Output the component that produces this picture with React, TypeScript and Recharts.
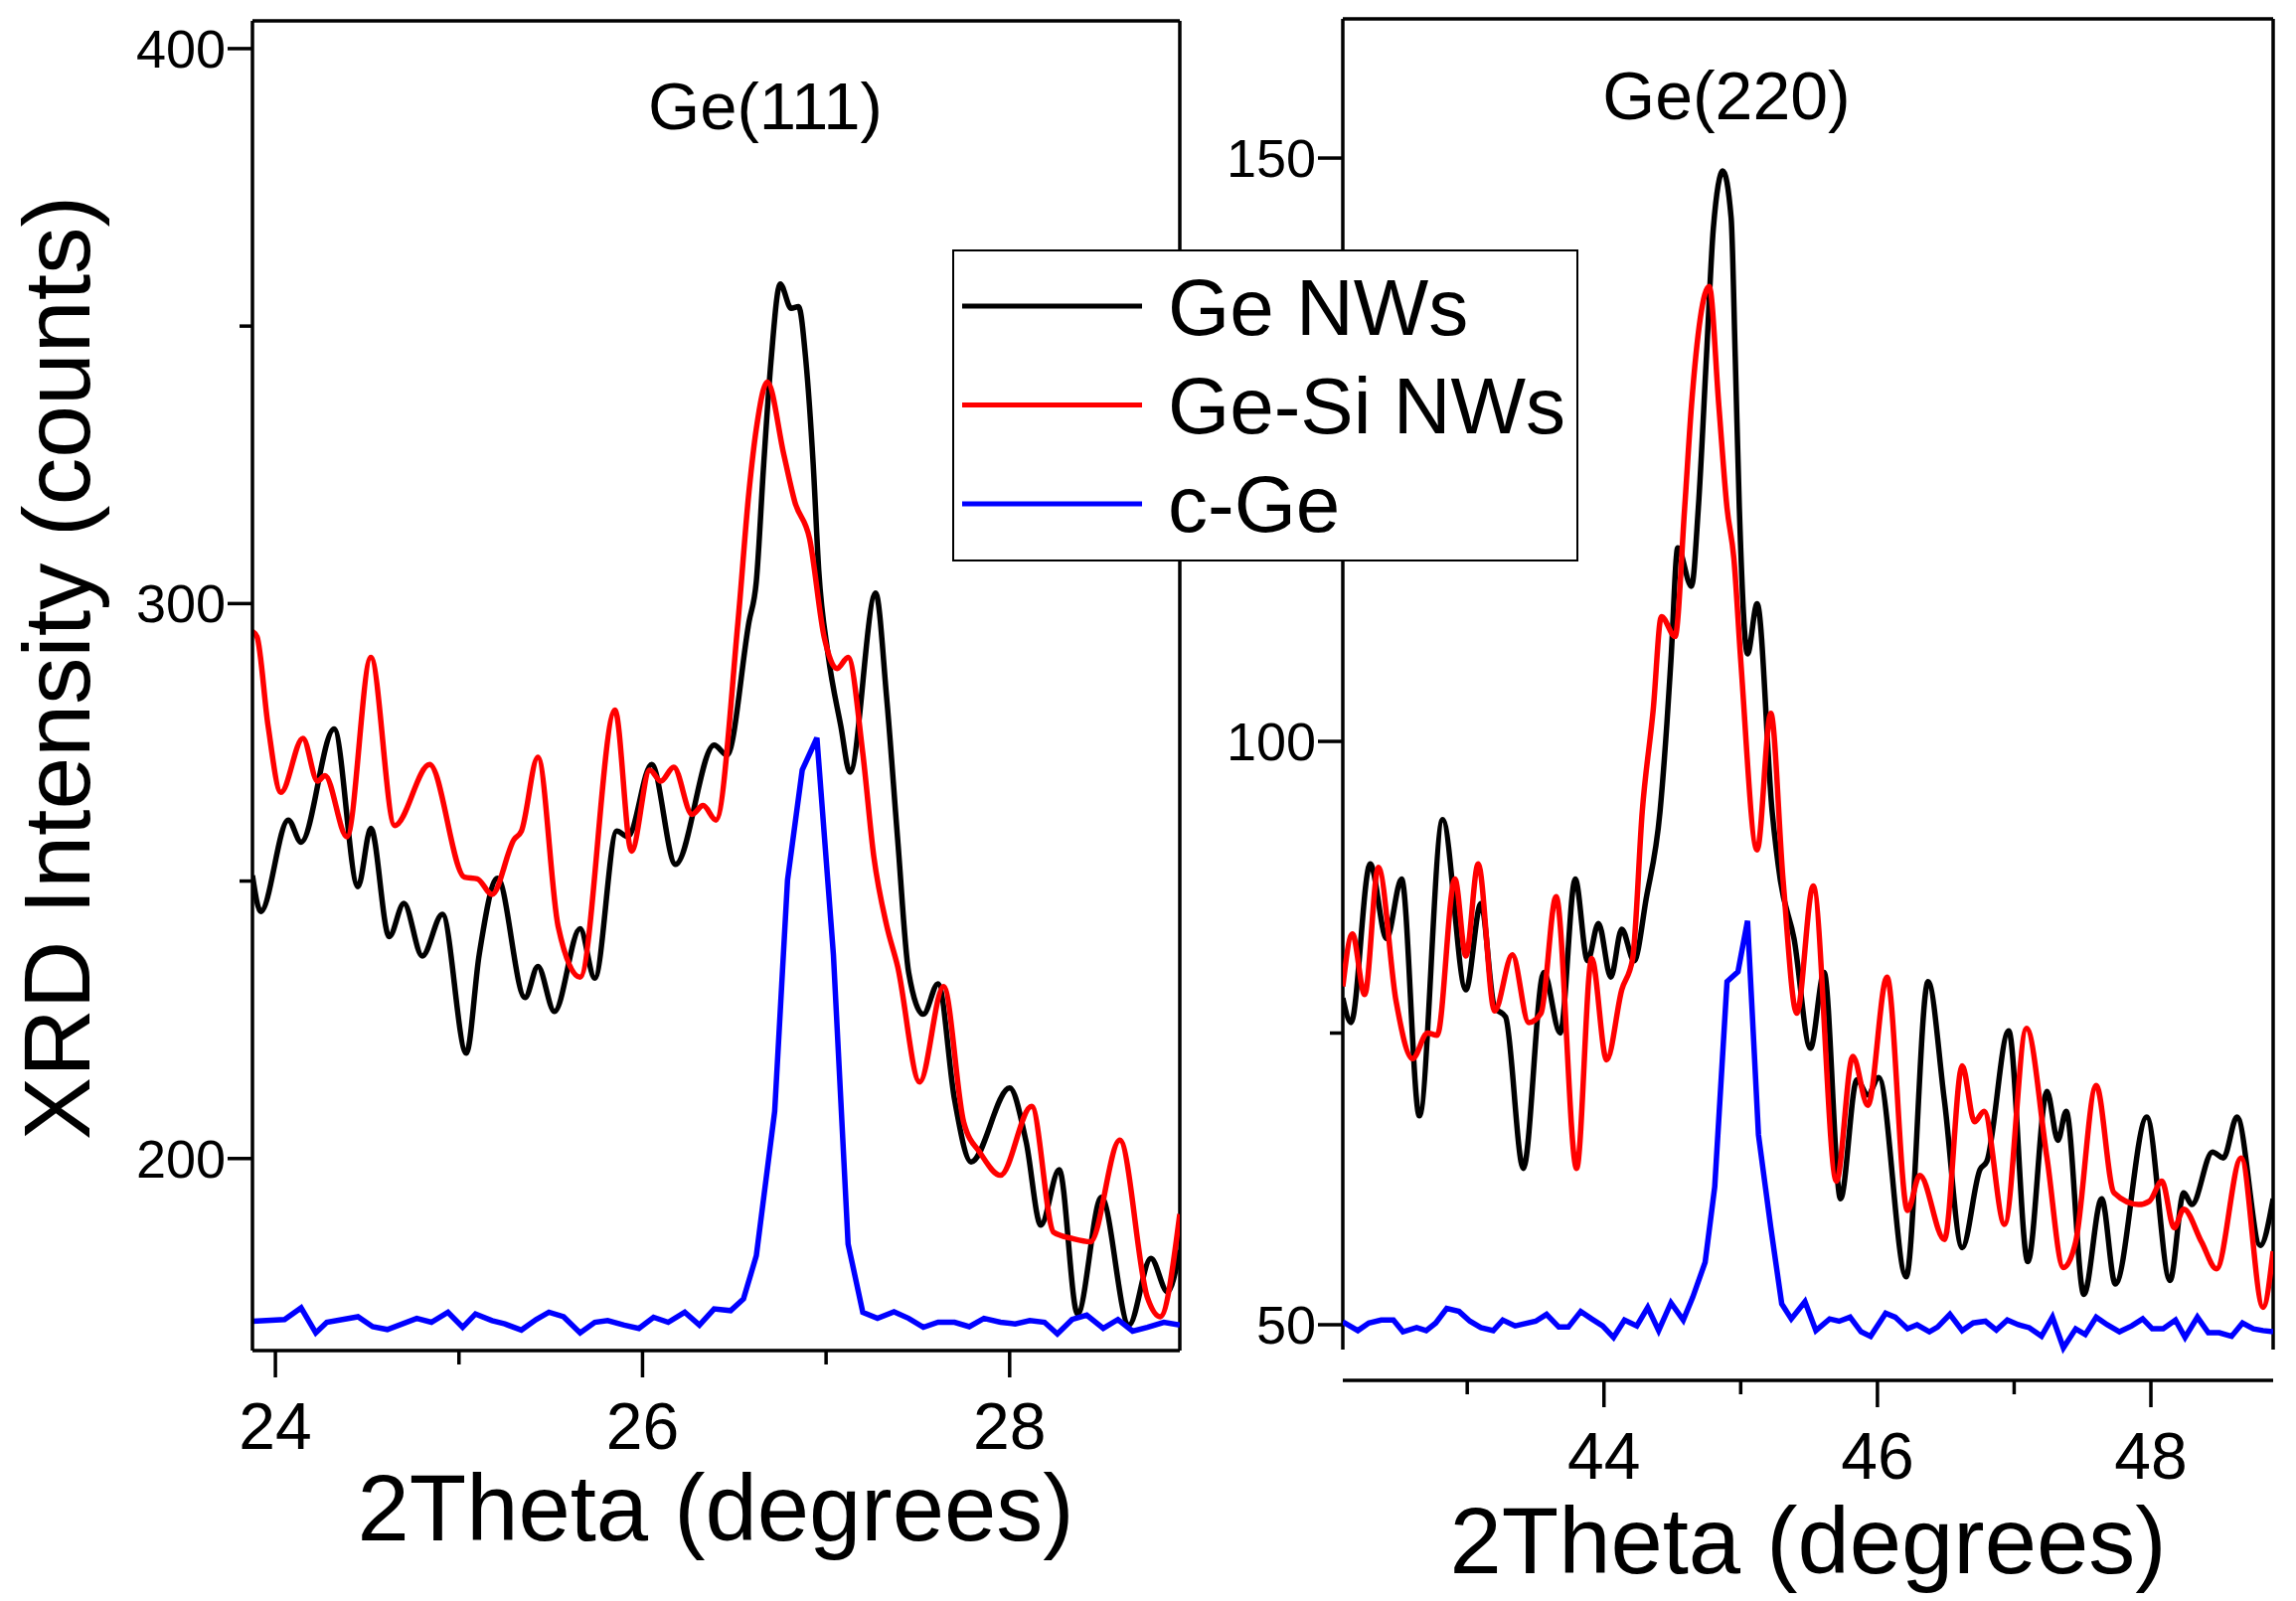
import React from 'react';
import { LineChart, Line, XAxis, YAxis, ReferenceLine } from 'recharts';

const FONT = '"Liberation Sans", Arial, Helvetica, sans-serif';

// ---------- Ge(111) panel data ----------
const geNW111X = [23.875, 23.92, 24.07, 24.14, 24.32, 24.45, 24.52, 24.62, 24.70, 24.80, 24.91, 25.04, 25.11, 25.21, 25.36, 25.43, 25.52, 25.66, 25.74, 25.86, 25.92, 26.05, 26.18, 26.39, 26.46, 26.58, 26.62, 26.66, 26.70, 26.75, 26.81, 26.85, 26.89, 26.93, 26.96, 27.01, 27.08, 27.13, 27.27, 27.33, 27.39, 27.45, 27.53, 27.61, 27.70, 27.79, 28.00, 28.09, 28.17, 28.27, 28.37, 28.50, 28.65, 28.77, 28.86, 28.927];
const geNW111Y = [251, 244.5, 261, 257, 277.4, 249, 259.5, 240, 246, 236.5, 244, 219, 236.7, 250.5, 229, 234.6, 226.5, 241.4, 232.5, 259, 258, 271, 253, 274.5, 272.7, 296.7, 304, 325, 343.7, 357.6, 353.2, 353.5, 343.7, 325, 306, 291, 278, 269.6, 301.9, 283, 257.5, 233.5, 226, 231.5, 210.6, 199.4, 212.7, 203, 188, 198, 172, 193, 170, 182, 176, 183.5];

const geSiNW111X = [23.875, 23.90, 23.96, 24.03, 24.15, 24.23, 24.27, 24.39, 24.52, 24.65, 24.84, 25.03, 25.10, 25.18, 25.30, 25.34, 25.43, 25.54, 25.66, 25.85, 25.94, 26.04, 26.10, 26.17, 26.27, 26.33, 26.40, 26.52, 26.58, 26.62, 26.68, 26.77, 26.83, 26.91, 26.99, 27.06, 27.12, 27.20, 27.26, 27.33, 27.39, 27.51, 27.64, 27.75, 27.84, 27.95, 28.12, 28.24, 28.34, 28.44, 28.60, 28.75, 28.82, 28.927];
const geSiNW111Y = [295, 294, 278, 266, 275.7, 268, 269, 258, 290.3, 260, 271, 250.7, 250.4, 247.6, 257.5, 259, 272.3, 241.9, 232.7, 280.8, 255.4, 270, 268, 270.5, 262, 263.6, 261, 296.7, 320.2, 331.5, 339.9, 326.8, 318.3, 311.7, 293.9, 288.3, 290.3, 273, 254.4, 242, 234.6, 213.8, 231, 206.5, 201, 197, 209.4, 186.7, 185.6, 185, 203.3, 175, 171.5, 190];

const cGe111X = [23.875, 24.05, 24.14, 24.22, 24.28, 24.45, 24.53, 24.61, 24.77, 24.85, 24.94, 25.02, 25.09, 25.18, 25.25, 25.34, 25.42, 25.49, 25.57, 25.66, 25.74, 25.81, 25.90, 25.98, 26.06, 26.14, 26.23, 26.31, 26.39, 26.48, 26.55, 26.62, 26.72, 26.79, 26.87, 26.95, 27.04, 27.12, 27.20, 27.28, 27.37, 27.45, 27.53, 27.61, 27.70, 27.78, 27.86, 27.95, 28.03, 28.11, 28.19, 28.26, 28.34, 28.42, 28.51, 28.59, 28.67, 28.75, 28.84, 28.927];
const cGe111Y = [170.7, 171.0, 173.1, 168.6, 170.5, 171.5, 169.7, 169.2, 171.2, 170.5, 172.3, 169.6, 172.0, 170.8, 170.2, 169.1, 171.0, 172.3, 171.5, 168.6, 170.5, 170.8, 170.0, 169.4, 171.4, 170.5, 172.3, 170.0, 172.9, 172.6, 174.7, 182.5, 208.5, 250.2, 270, 275.8, 236.7, 184.6, 172.3, 171.2, 172.4, 171.2, 169.6, 170.5, 170.5, 169.7, 171.2, 170.5, 170.2, 170.8, 170.5, 168.4, 171.0, 171.8, 169.4, 171.0, 168.9, 169.6, 170.5, 170.0];

// ---------- Ge(220) panel data ----------
const geNW220X = [42.09, 42.15, 42.29, 42.41, 42.52, 42.65, 42.82, 42.99, 43.10, 43.20, 43.28, 43.41, 43.56, 43.68, 43.79, 43.88, 43.96, 44.05, 44.13, 44.22, 44.31, 44.41, 44.46, 44.49, 44.54, 44.64, 44.69, 44.75, 44.80, 44.87, 44.93, 44.96, 44.99, 45.05, 45.12, 45.23, 45.29, 45.39, 45.51, 45.61, 45.73, 45.85, 45.93, 46.01, 46.21, 46.37, 46.49, 46.62, 46.75, 46.80, 46.96, 47.10, 47.24, 47.32, 47.38, 47.51, 47.64, 47.74, 47.97, 48.14, 48.24, 48.30, 48.45, 48.53, 48.63, 48.80, 48.894];
const geNW220Y = [78, 75.9, 89.5, 83.1, 88.2, 67.9, 93.3, 78.7, 86.1, 77.2, 76.4, 63.4, 80.2, 75, 88.2, 81.2, 84.4, 79.8, 83.9, 81.2, 86.6, 94, 101.5, 107, 116.6, 113.3, 120, 133.1, 144, 148.9, 144.9, 133, 120, 107.5, 111.8, 94, 88.1, 83.1, 73.7, 80.2, 60.8, 71, 69.7, 71.2, 54.1, 79.4, 69.2, 56.6, 63.3, 64, 75.2, 55.4, 70, 65.8, 68.3, 52.6, 60.8, 53.5, 67.8, 53.8, 61.3, 60.3, 64.8, 64.3, 67.8, 56.8, 60.8];

const geSiNW220X = [42.09, 42.16, 42.25, 42.35, 42.48, 42.60, 42.71, 42.78, 42.91, 42.99, 43.08, 43.20, 43.33, 43.45, 43.54, 43.65, 43.80, 43.91, 44.02, 44.13, 44.21, 44.28, 44.36, 44.42, 44.52, 44.59, 44.64, 44.77, 44.84, 44.90, 44.95, 45.00, 45.12, 45.22, 45.31, 45.41, 45.53, 45.70, 45.82, 45.93, 46.07, 46.22, 46.31, 46.49, 46.62, 46.71, 46.78, 46.93, 47.09, 47.24, 47.36, 47.45, 47.60, 47.73, 47.91, 47.99, 48.08, 48.17, 48.24, 48.37, 48.48, 48.66, 48.82, 48.894];
const geSiNW220Y = [79, 83.5, 78.3, 89.2, 77.7, 72.8, 75, 74.8, 88.2, 81.6, 89.5, 76.9, 81.7, 75.9, 76.7, 86.7, 63.4, 81.4, 72.7, 78.7, 81.4, 94, 102.7, 110.7, 109.0, 120, 128.8, 139, 128.8, 120, 115.7, 107, 90.7, 102.4, 88.1, 76.7, 87.6, 62.3, 73, 68.8, 79.8, 59.8, 62.8, 57.3, 72.2, 67.4, 68.3, 58.6, 75.4, 64.3, 54.9, 57.1, 70.5, 61.3, 60.3, 60.6, 62.3, 58.3, 59.9, 57.1, 54.8, 64.3, 51.5, 56.3];

const cGe220X = [42.09, 42.20, 42.28, 42.37, 42.46, 42.53, 42.63, 42.70, 42.77, 42.85, 42.94, 43.02, 43.10, 43.19, 43.26, 43.35, 43.50, 43.58, 43.67, 43.74, 43.83, 43.91, 43.99, 44.07, 44.15, 44.24, 44.32, 44.40, 44.49, 44.58, 44.65, 44.74, 44.81, 44.90, 44.98, 45.05, 45.13, 45.22, 45.30, 45.37, 45.47, 45.55, 45.65, 45.72, 45.80, 45.88, 45.95, 46.06, 46.13, 46.22, 46.29, 46.38, 46.44, 46.53, 46.62, 46.70, 46.79, 46.87, 46.95, 47.03, 47.11, 47.20, 47.28, 47.36, 47.45, 47.52, 47.60, 47.68, 47.77, 47.86, 47.94, 48.01, 48.09, 48.18, 48.25, 48.34, 48.42, 48.50, 48.59, 48.67, 48.75, 48.82, 48.894];
const cGe220Y = [50.25, 49.50, 50.15, 50.40, 50.40, 49.40, 49.75, 49.50, 50.15, 51.39, 51.14, 50.30, 49.75, 49.50, 50.40, 49.90, 50.30, 50.89, 49.80, 49.80, 51.14, 50.50, 49.90, 48.91, 50.40, 49.90, 51.49, 49.50, 51.88, 50.40, 52.38, 55.36, 61.81, 79.41, 80.26, 84.62, 66.27, 58.33, 51.79, 50.50, 51.98, 49.50, 50.50, 50.30, 50.65, 49.40, 49.01, 50.99, 50.65, 49.65, 50.0, 49.40, 49.80, 50.89, 49.50, 50.15, 50.30, 49.55, 50.40, 50.0, 49.75, 49.01, 50.65, 48.02, 49.65, 49.16, 50.65, 50.0, 49.40, 49.90, 50.50, 49.65, 49.65, 50.40, 48.91, 50.65, 49.31, 49.31, 49.01, 50.15, 49.65, 49.50, 49.40];

// ---------- tick & label lists ----------
const xTicks111 = [24, 25, 26, 27, 28];
const xLabels111 = [24, 26, 28];
const yTicks111 = [200, 250, 300, 350, 400];
const yLabels111 = [200, 300, 400];
const xTicks220 = [43, 44, 45, 46, 47, 48];
const xLabels220 = [44, 46, 48];
const yTicks220 = [50, 75, 100, 125, 150];
const yLabels220 = [50, 100, 150];

const seriesNames = ['Ge NWs', 'Ge-Si NWs', 'c-Ge'];
const seriesColors = ['#000000', '#ff0000', '#0000ff'];

const zip = (xs: number[], ys: number[]) => xs.map((x, i) => ({ x, y: ys[i] }));

const d111 = [zip(geNW111X, geNW111Y), zip(geSiNW111X, geSiNW111Y), zip(cGe111X, cGe111Y)];
const d220 = [zip(geNW220X, geNW220Y), zip(geSiNW220X, geSiNW220Y), zip(cGe220X, cGe220Y)];

const AXW = 3.5;

const makeXTick = (labels: number[]) => (props: any) => {
  const { x, y, payload } = props;
  const major = labels.includes(payload.value);
  return (
    <g>
      <line x1={x} x2={x} y1={y} y2={y + (major ? 27 : 14)} stroke="#000" strokeWidth={AXW} />
      {major ? (
        <text x={x} y={y + 99} textAnchor="middle" fontSize={66} fontFamily={FONT} fill="#000">
          {payload.value}
        </text>
      ) : null}
    </g>
  );
};

const makeYTick = (labels: number[]) => (props: any) => {
  const { x, y, payload } = props;
  const major = labels.includes(payload.value);
  return (
    <g>
      <line x1={x - (major ? 25 : 13)} x2={x} y1={y} y2={y} stroke="#000" strokeWidth={AXW} />
      {major ? (
        <text x={x - 27} y={y + 19} textAnchor="end" fontSize={54} fontFamily={FONT} fill="#000">
          {payload.value}
        </text>
      ) : null}
    </g>
  );
};

const X111: [number, number] = [23.875, 28.927];
const Y111: [number, number] = [165.4, 405.0];
const X220: [number, number] = [42.09, 48.894];
const Y220: [number, number] = [45.23, 161.93];
const Y220_FRAME_BOTTOM = 47.87;

export default function App() {
  return (
    <div style={{ position: 'absolute', left: 0, top: 0, width: 2310, height: 1611, background: '#fff', overflow: 'hidden' }}>
      <div style={{ position: 'absolute', left: 0, top: 0 }}>
        <LineChart width={1220} height={1611} margin={{ top: 21, right: 33, bottom: 192, left: 134 }}>
          <XAxis
            type="number"
            dataKey="x"
            domain={X111}
            allowDataOverflow
            ticks={xTicks111}
            interval={0}
            tickSize={0}
            tickMargin={0}
            height={60}
            axisLine={{ stroke: '#000', strokeWidth: AXW }}
            tickLine={false}
            tick={makeXTick(xLabels111)}
          />
          <YAxis
            type="number"
            dataKey="y"
            domain={Y111}
            allowDataOverflow
            ticks={yTicks111}
            interval={0}
            tickSize={0}
            tickMargin={0}
            width={120}
            axisLine={{ stroke: '#000', strokeWidth: AXW }}
            tickLine={false}
            tick={makeYTick(yLabels111)}
          />
          <ReferenceLine x={X111[1]} stroke="#000" strokeWidth={AXW} ifOverflow="visible" />
          <ReferenceLine y={Y111[1]} stroke="#000" strokeWidth={AXW} ifOverflow="visible" />
          {d111.map((data, i) => (
            <Line
              key={seriesNames[i]}
              data={data}
              dataKey="y"
              name={seriesNames[i]}
              type={i === 2 ? 'linear' : 'monotone'}
              stroke={seriesColors[i]}
              strokeWidth={5.5}
              dot={false}
              activeDot={false}
              isAnimationActive={false}
            />
          ))}
        </LineChart>
      </div>
      <div style={{ position: 'absolute', left: 1200, top: 0 }}>
        <LineChart width={1110} height={1611} margin={{ top: 19, right: 23, bottom: 162, left: 51 }}>
          <XAxis
            type="number"
            dataKey="x"
            domain={X220}
            allowDataOverflow
            ticks={xTicks220}
            interval={0}
            tickSize={0}
            tickMargin={0}
            height={60}
            axisLine={{ stroke: '#000', strokeWidth: AXW }}
            tickLine={false}
            tick={makeXTick(xLabels220)}
          />
          <YAxis
            type="number"
            dataKey="y"
            domain={Y220}
            allowDataOverflow
            ticks={yTicks220}
            interval={0}
            tickSize={0}
            tickMargin={0}
            width={100}
            axisLine={false}
            tickLine={false}
            tick={makeYTick(yLabels220)}
          />
          <ReferenceLine
            segment={[{ x: X220[0], y: Y220_FRAME_BOTTOM }, { x: X220[0], y: Y220[1] }]}
            stroke="#000"
            strokeWidth={AXW}
            ifOverflow="visible"
          />
          <ReferenceLine
            segment={[{ x: X220[1], y: Y220_FRAME_BOTTOM }, { x: X220[1], y: Y220[1] }]}
            stroke="#000"
            strokeWidth={AXW}
            ifOverflow="visible"
          />
          <ReferenceLine y={Y220[1]} stroke="#000" strokeWidth={AXW} ifOverflow="visible" />
          {d220.map((data, i) => (
            <Line
              key={seriesNames[i]}
              data={data}
              dataKey="y"
              name={seriesNames[i]}
              type={i === 2 ? 'linear' : 'monotone'}
              stroke={seriesColors[i]}
              strokeWidth={5.5}
              dot={false}
              activeDot={false}
              isAnimationActive={false}
            />
          ))}
        </LineChart>
      </div>
      <svg
        width={2310}
        height={1611}
        style={{ position: 'absolute', left: 0, top: 0, pointerEvents: 'none' }}
        fontFamily={FONT}
      >
        <text x={770} y={130} textAnchor="middle" fontSize={67} fill="#000">Ge(111)</text>
        <text x={1737} y={120} textAnchor="middle" fontSize={68} fill="#000">Ge(220)</text>
        <text x={720} y={1550} textAnchor="middle" fontSize={94} fill="#000">2Theta (degrees)</text>
        <text x={1819} y={1583} textAnchor="middle" fontSize={94} fill="#000">2Theta (degrees)</text>
        <text transform="rotate(-90)" x={-672} y={90} textAnchor="middle" fontSize={95} fill="#000">
          XRD Intensity (counts)
        </text>
        <rect x={959} y={252} width={628} height={312} fill="#fff" stroke="#000" strokeWidth={2} />
        {seriesNames.map((n, i) => (
          <g key={n}>
            <line x1={968} x2={1149} y1={308 + i * 99.5} y2={308 + i * 99.5} stroke={seriesColors[i]} strokeWidth={5} />
            <text x={1175} y={337 + i * 99} fontSize={80} fill="#000">{n}</text>
          </g>
        ))}
      </svg>
    </div>
  );
}
